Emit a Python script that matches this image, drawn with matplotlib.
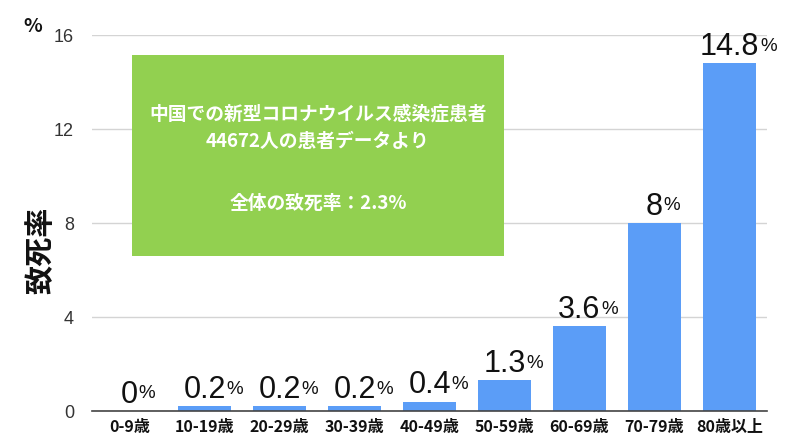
import matplotlib
matplotlib.use("Agg")
import matplotlib.pyplot as plt
from matplotlib.patches import Rectangle

plt.rcParams['font.family'] = ['Noto Sans CJK JP', 'DejaVu Sans']

categories = ["0-9歳", "10-19歳", "20-29歳", "30-39歳", "40-49歳",
              "50-59歳", "60-69歳", "70-79歳", "80歳以上"]
values = [0, 0.2, 0.2, 0.2, 0.4, 1.3, 3.6, 8, 14.8]
value_labels = ["0", "0.2", "0.2", "0.2", "0.4", "1.3", "3.6", "8", "14.8"]
yticks = [0, 4, 8, 12, 16]
box_lines = ["中国での新型コロナウイルス感染症患者",
             "44672人の患者データより",
             "",
             "全体の致死率：2.3%"]

fig = plt.figure(figsize=(8, 4.45), dpi=100)
ax = fig.add_axes([92/800, 34/445, 675/800, 376/445])

x = list(range(len(categories)))
ax.bar(x, values, width=0.71, color="#5B9DF7", zorder=3)
ax.set_xlim(-0.5, len(categories) - 0.5)
ax.set_ylim(0, 16)
ax.set_yticks(yticks)
ax.set_yticklabels([str(t) for t in yticks], fontsize=13, color="#333333",
                   family=['Liberation Sans', 'DejaVu Sans'])
ax.set_xticks(x)
ax.set_xticklabels(categories, fontsize=11.5, color="#111111", fontweight='bold')
ax.tick_params(axis='y', length=0, pad=13)
ax.tick_params(axis='x', length=0, pad=6)
ax.yaxis.grid(True, color="#d4d4d4", linewidth=1, zorder=0)
ax.set_axisbelow(True)
for s in ['top', 'right', 'left']:
    ax.spines[s].set_visible(False)
ax.spines['bottom'].set_color("#444444")
ax.spines['bottom'].set_linewidth(1.2)
ax.spines['bottom'].set_zorder(4)

for xi, v, lab in zip(x, values, value_labels):
    t = ax.annotate(lab, xy=(xi, v), xytext=(0, 1), textcoords='offset points',
                    ha='center', va='bottom', fontsize=22, color="#111111",
                    family=['Liberation Sans', 'DejaVu Sans'], zorder=5)
    ax.annotate('%', xy=(1.0, 0.24), xycoords=t, xytext=(0.5, 0),
                textcoords='offset points', ha='left', va='bottom',
                fontsize=13.5, color="#111111",
                family=['Liberation Sans', 'DejaVu Sans'], zorder=5)

# annotation box
fig.patches.append(Rectangle((132/800, (445-256)/445), 372/800, 201/445,
                             transform=fig.transFigure, facecolor="#92D050",
                             edgecolor="none", zorder=2))
fig.text(318/800, (445-128)/445, "\n".join(box_lines[:2]), ha='center', va='center',
         fontsize=13.5, color="white", linespacing=1.55, fontweight='bold', zorder=6)
fig.text(318/800, (445-203)/445, box_lines[3], ha='center', va='center',
         fontsize=13.5, color="white", fontweight='bold', zorder=6)

fig.text(33/800, (445-27)/445, "%", ha='center', va='center', fontsize=14,
         fontweight='bold', color="#111111")
fig.text(40/800, (445-250)/445, "致死率", ha='center', va='center', fontsize=21,
         fontweight='bold', rotation=90, color="#111111")

fig.savefig("out.png", dpi=100)
